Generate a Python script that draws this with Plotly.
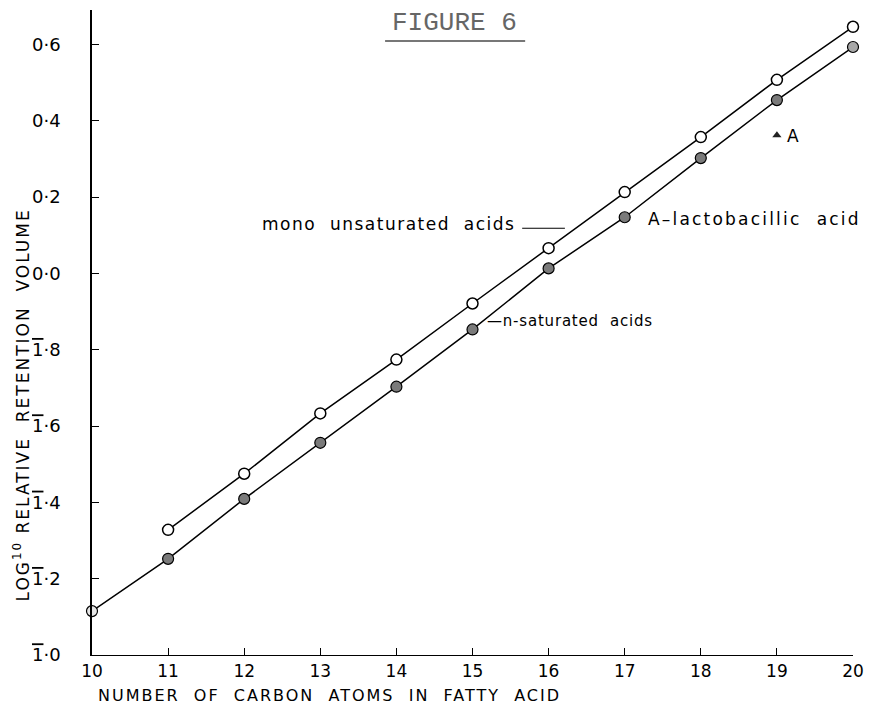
import plotly.graph_objects as go

# ---- data ----
carbon_sat = [10, 11, 12, 13, 14, 15, 16, 17, 18, 19, 20]
log_sat = [-0.885, -0.748, -0.591, -0.444, -0.297, -0.147, 0.013, 0.147, 0.302, 0.454, 0.593]
sat_fill = ["#e6e6e6", "#7a7a7a", "#7a7a7a", "#7a7a7a", "#7a7a7a", "#7a7a7a",
            "#7a7a7a", "#7a7a7a", "#7a7a7a", "#7a7a7a", "#a8a8a8"]

carbon_mono = [11, 12, 13, 14, 15, 16, 17, 18, 19, 20]
log_mono = [-0.672, -0.525, -0.367, -0.226, -0.079, 0.066, 0.213, 0.357, 0.507, 0.646]

carbon_A = [19]
log_A = [0.362]

x_ticks = list(range(10, 21))
y_ticks = [-1.0, -0.8, -0.6, -0.4, -0.2, 0.0, 0.2, 0.4, 0.6]
OV = '<span style="text-decoration:overline">1</span>'
y_ticklabels = [OV + "\u00b70", OV + "\u00b72", OV + "\u00b74", OV + "\u00b76", OV + "\u00b78",
                "0\u00b70", "0\u00b72", "0\u00b74", "0\u00b76"]

FONT = "DejaVu Sans"

fig = go.Figure()
fig.add_trace(go.Scatter(
    x=carbon_mono, y=log_mono, mode="lines+markers",
    line=dict(color="black", width=1.5),
    marker=dict(symbol="circle", size=11, color="white", line=dict(color="black", width=1.5)),
    cliponaxis=False, showlegend=False))
fig.add_trace(go.Scatter(
    x=carbon_sat, y=log_sat, mode="lines+markers",
    line=dict(color="black", width=1.5),
    marker=dict(symbol="circle", size=11, color=sat_fill, line=dict(color="black", width=1.2)),
    cliponaxis=False, showlegend=False))
fig.add_trace(go.Scatter(
    x=carbon_A, y=log_A, mode="markers",
    marker=dict(symbol="triangle-up", size=8, color="#222"),
    cliponaxis=False, showlegend=False))

def px2x(px):
    return 10 + (px - 92) / 76.6

def py2y(py):
    return (273 - py) / 381.0

ann = []
ann.append(dict(x=px2x(520), y=py2y(224), xref="x", yref="y", xanchor="right", yanchor="middle",
                text='<span style="letter-spacing:1.5px">mono  unsaturated  acids</span>', showarrow=False,
                font=dict(family=FONT, size=17, color="black")))
ann.append(dict(x=px2x(488), y=py2y(321), xref="x", yref="y", xanchor="left", yanchor="middle",
                text='<span style="letter-spacing:0.8px">\u2014n-saturated  acids</span>', showarrow=False,
                font=dict(family=FONT, size=15, color="black")))
ann.append(dict(x=px2x(650), y=py2y(219), xref="x", yref="y", xanchor="left", yanchor="middle",
                text='<span style="letter-spacing:2.2px">A\u2013lactobacillic  acid</span>', showarrow=False,
                font=dict(family=FONT, size=17, color="black")))
ann.append(dict(x=px2x(790), y=py2y(136), xref="x", yref="y", xanchor="left", yanchor="middle",
                text="A", showarrow=False,
                font=dict(family=FONT, size=17, color="black")))
ann.append(dict(x=(457 - 92) / 766, y=(655 - 23) / 645, xref="paper", yref="paper",
                xanchor="center", yanchor="middle", text="FIGURE 6", showarrow=False,
                font=dict(family="Liberation Mono", size=26, color="#666")))
ann.append(dict(x=(331 - 92) / 766, y=(655 - 695) / 645, xref="paper", yref="paper",
                xanchor="center", yanchor="middle",
                text='<span style="letter-spacing:2px">NUMBER  OF  CARBON  ATOMS  IN  FATTY  ACID</span>',
                showarrow=False, font=dict(family=FONT, size=16, color="black")))
ann.append(dict(x=(21 - 92) / 766, y=(655 - 405) / 645, xref="paper", yref="paper",
                xanchor="center", yanchor="middle", textangle=-90,
                text='<span style="letter-spacing:2px">LOG<sup>10</sup> RELATIVE  RETENTION  VOLUME</span>',
                showarrow=False, font=dict(family=FONT, size=17, color="black")))

shapes = [
    dict(type="line", xref="x", yref="y", x0=px2x(525), x1=px2x(568), y0=py2y(228), y1=py2y(228),
         line=dict(color="black", width=1.2)),
    dict(type="line", xref="paper", yref="paper", x0=(387 - 92) / 766, x1=(528 - 92) / 766,
         y0=(655 - 41) / 645, y1=(655 - 41) / 645, line=dict(color="#777", width=2)),
]

fig.update_layout(
    width=874, height=710,
    margin=dict(l=92, r=16, t=10, b=55),
    paper_bgcolor="white", plot_bgcolor="white",
    annotations=ann, shapes=shapes,
    xaxis=dict(range=[10, 20], tickvals=x_ticks, ticktext=[str(v) for v in x_ticks],
               ticks="inside", ticklen=7, tickcolor="black", showline=True, linecolor="black",
               linewidth=1.2, showgrid=False, zeroline=False, mirror=False,
               tickfont=dict(family=FONT, size=17, color="black")),
    yaxis=dict(range=[-1.0, 0.69], tickvals=y_ticks, ticktext=y_ticklabels,
               ticks="inside", ticklen=7, tickcolor="black", showline=True, linecolor="black",
               linewidth=1.5, showgrid=False, zeroline=False, ticklabelstandoff=26,
               tickfont=dict(family=FONT, size=18, color="black")),
)

fig.write_html("out.html")
